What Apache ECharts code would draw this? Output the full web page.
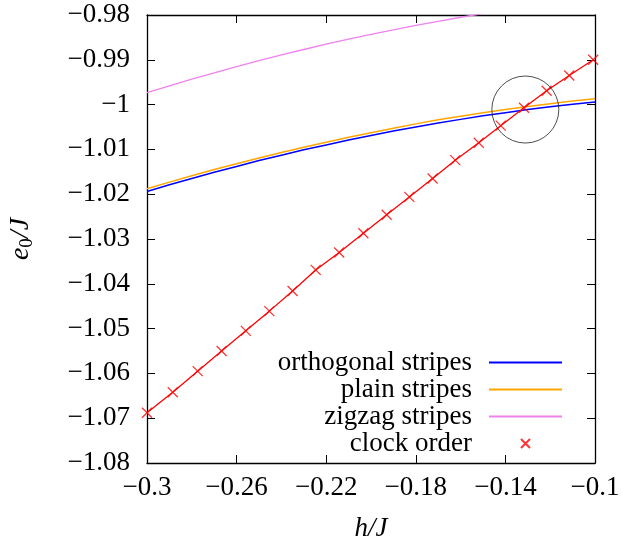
<!DOCTYPE html>
<html>
<head>
<meta charset="utf-8">
<script src="https://cdn.jsdelivr.net/npm/echarts@6/dist/echarts.min.js"></script>
<style>
  html, body { margin: 0; padding: 0; background: #fff; }
  #chart { width: 623px; height: 539px; }
</style>
</head>
<body>
<div id="chart"></div>
<script>
// h/J grid for the three stripe curves
const hGrid = [-0.30, -0.29, -0.28, -0.27, -0.26, -0.25, -0.24, -0.23, -0.22, -0.21, -0.20,
               -0.19, -0.18, -0.17, -0.16, -0.15, -0.14, -0.13, -0.12, -0.11, -0.10];
const orthogonal = [-1.0194, -1.0179, -1.0165, -1.0151, -1.0138, -1.0125, -1.0113, -1.0101, -1.0090, -1.0079, -1.0069,
                    -1.0059, -1.0050, -1.0041, -1.0033, -1.0025, -1.0018, -1.0011, -1.0005, -0.9999, -0.9994];
const plain = [-1.0188, -1.0173, -1.0159, -1.0145, -1.0132, -1.0119, -1.0107, -1.0095, -1.0084, -1.0073, -1.0063,
               -1.0053, -1.0043, -1.0034, -1.0026, -1.0018, -1.0011, -1.0004, -0.9998, -0.9992, -0.9987];
const zigzag = [-0.9973, -0.9958, -0.9943, -0.9929, -0.9915, -0.9902, -0.9889, -0.9877, -0.9865, -0.9854, -0.9843,
                -0.9833, -0.9823, -0.9814, -0.9805, -0.9797, -0.9789, -0.9782, -0.9775, -0.9769, -0.9763];

// clock order points
const clockH = [-0.3000, -0.2885, -0.2774, -0.2667, -0.2559, -0.2454, -0.2350, -0.2247, -0.2142, -0.2034,
                -0.1930, -0.1829, -0.1725, -0.1624, -0.1519, -0.1421, -0.1317, -0.1216, -0.1115, -0.1008];
const clockE = [-1.0688, -1.0642, -1.0595, -1.0550, -1.0505, -1.0461, -1.0416, -1.0369, -1.0330, -1.0287,
                -1.0246, -1.0206, -1.0165, -1.0124, -1.0085, -1.0047, -1.0007, -0.9969, -0.9935, -0.9900];

// highlighted crossing
const circleCenter = [-0.1311, -1.0011];

const xLabels = [-0.3, -0.26, -0.22, -0.18, -0.14, -0.1];

const FONT = 'Liberation Serif';
const FS = 27;

function fmt(v) {
  const s = parseFloat(Math.abs(v).toFixed(2)).toString();
  return (v < -1e-9 ? '\u2212' : '') + s;
}
function pairs(xs, ys) {
  return xs.map((x, i) => [x, ys[i]]);
}

const chart = echarts.init(document.getElementById('chart'));

const axisLine = { show: true, lineStyle: { color: '#000', width: 1.3 } };
const tick = { show: true, inside: true, length: 8, lineStyle: { color: '#000', width: 1 } };
const noDot = { color: 'rgba(0,0,0,0)' };

const option = {
  animation: false,
  grid: { left: 147, right: 28, top: 15, bottom: 76, outerBoundsMode: 'none', containLabel: false },
  legend: {
    orient: 'vertical',
    right: 60,
    top: 349,
    padding: 0,
    align: 'right',
    itemWidth: 73,
    itemHeight: 9,
    itemGap: 0,
    selectedMode: false,
    data: ['orthogonal stripes', 'plain stripes', 'zigzag stripes', 'clock order'],
    textStyle: { fontFamily: FONT, fontSize: FS, color: '#000', padding: [0, 12, 0, 0] }
  },
  xAxis: [
    {
      type: 'value', position: 'bottom', min: -0.3, max: -0.1,
      axisLine: axisLine,
      axisTick: Object.assign({}, tick, { customValues: xLabels }),
      axisLabel: { customValues: xLabels, formatter: fmt, margin: 11, fontFamily: FONT, fontSize: FS, color: '#000' },
      splitLine: { show: false },
      name: 'h/J', nameLocation: 'middle', nameGap: 52,
      nameTextStyle: { fontFamily: FONT, fontStyle: 'italic', fontSize: FS, color: '#000' }
    },
    {
      type: 'value', position: 'top', min: -0.3, max: -0.1,
      axisLine: axisLine,
      axisTick: Object.assign({}, tick, { customValues: xLabels }),
      axisLabel: { show: false },
      splitLine: { show: false }
    }
  ],
  yAxis: [
    {
      type: 'value', position: 'left', min: -1.08, max: -0.98, interval: 0.01,
      axisLine: axisLine,
      axisTick: tick,
      axisLabel: { formatter: fmt, margin: 17, fontFamily: FONT, fontSize: FS, color: '#000' },
      splitLine: { show: false },
      name: '{a|e}{b|0}{a|/J}', nameLocation: 'middle', nameGap: 110,
      nameTextStyle: {
        color: '#000',
        rich: {
          a: { fontFamily: FONT, fontStyle: 'italic', fontSize: 28, lineHeight: 32, color: '#000' },
          b: { fontFamily: FONT, fontSize: 19, lineHeight: 20, verticalAlign: 'bottom', color: '#000' }
        }
      }
    },
    {
      type: 'value', position: 'right', min: -1.08, max: -0.98, interval: 0.01,
      axisLine: axisLine,
      axisTick: tick,
      axisLabel: { show: false },
      splitLine: { show: false }
    }
  ],
  series: [
    {
      name: 'orthogonal stripes', type: 'line', symbol: 'none',
      data: pairs(hGrid, orthogonal),
      lineStyle: { color: '#0000ff', width: 1.5 }, itemStyle: noDot
    },
    {
      name: 'plain stripes', type: 'line', symbol: 'none',
      data: pairs(hGrid, plain),
      lineStyle: { color: '#ffa500', width: 1.5 }, itemStyle: noDot
    },
    {
      name: 'zigzag stripes', type: 'line', symbol: 'none',
      data: pairs(hGrid, zigzag),
      lineStyle: { color: '#ee82ee', width: 1.3 }, itemStyle: noDot
    },
    {
      name: 'clock line', type: 'line', symbol: 'none',
      data: pairs(clockH, clockE),
      lineStyle: { color: '#ff0000', width: 1.3 }, itemStyle: noDot
    },
    {
      name: 'clock order', type: 'scatter',
      symbol: 'path://M0,0L10,10M10,0L0,10', symbolSize: 10, symbolKeepAspect: true,
      data: pairs(clockH, clockE),
      itemStyle: { color: '#ff0000', borderColor: '#ff0000', borderWidth: 1.3 },
      z: 5
    },
    {
      name: 'circle', type: 'scatter', symbol: 'circle', symbolSize: 67, silent: true,
      data: [circleCenter],
      itemStyle: { color: 'rgba(0,0,0,0)', borderColor: '#222', borderWidth: 1 },
      z: 6
    }
  ]
};

chart.setOption(option);
</script>
</body>
</html>
